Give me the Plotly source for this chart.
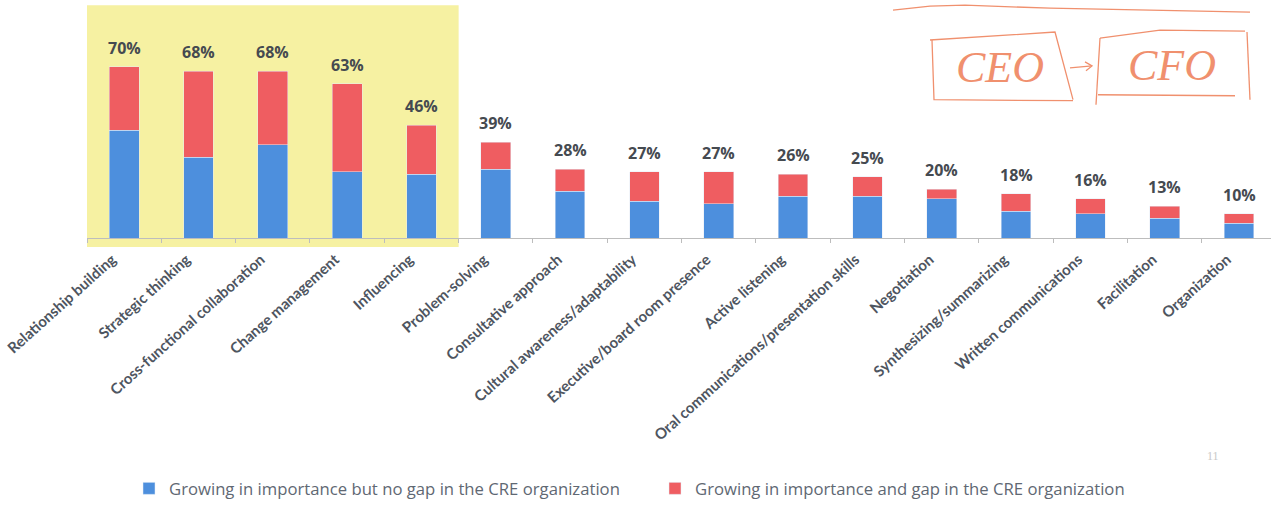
import plotly.graph_objects as go

categories = [
    "Relationship building", "Strategic thinking", "Cross-functional collaboration",
    "Change management", "Influencing", "Problem-solving", "Consultative approach",
    "Cultural awareness/adaptability", "Executive/board room presence", "Active listening",
    "Oral communications/presentation skills", "Negotiation", "Synthesizing/summarizing",
    "Written communications", "Facilitation", "Organization",
]
no_gap = [44, 33, 38, 27, 26, 28, 19, 15, 14, 17, 17, 16, 11, 10, 8, 6]
gap = [26, 35, 30, 36, 20, 11, 9, 12, 13, 9, 8, 4, 7, 6, 5, 4]
totals = [70, 68, 68, 63, 46, 39, 28, 27, 27, 26, 25, 20, 18, 16, 13, 10]
series_names = [
    "Growing in importance but no gap in the CRE organization",
    "Growing in importance and gap in the CRE organization",
]

BLUE = "#4d8fdd"
RED = "#ef5d61"

# plot area in pixels
X0, X1, YT, YB = 87, 1271, 42, 239


def px(p):
    return (p - X0) / (X1 - X0)


def py(p):
    return (YB - p) / (YB - YT)


fig = go.Figure()
fig.add_trace(go.Bar(x=categories, y=no_gap, name=series_names[0], marker_color=BLUE))
fig.add_trace(go.Bar(x=categories, y=gap, name=series_names[1], marker_color=RED))

for c, t in zip(categories, totals):
    fig.add_annotation(x=c, y=t, text=f"<b>{t}%</b>", showarrow=False, yanchor="bottom",
                       yshift=6, font=dict(family="Open Sans", size=16, color="#454a50"))

# yellow highlight behind first five categories
fig.add_shape(type="rect", xref="x", yref="paper", x0=-0.52, x1=4.5, y0=py(248), y1=py(5),
              fillcolor="#f6f1a2", line=dict(width=0), layer="below")

# hand-drawn "CEO -> CFO" note
HC = "#f0906e"


def path(points):
    return "M" + " L".join(f"{px(a):.5f},{py(b):.5f}" for a, b in points)


strokes = [
    [(893, 10), (930, 6), (965, 5), (1050, 8), (1150, 10), (1250, 12)],
    [(930, 40), (1055, 32), (1073, 100)],
    [(932, 40), (934, 100), (1073, 101)],
    [(1100, 38), (1160, 30), (1245, 31)],
    [(1100, 38), (1096, 105)],
    [(1247, 32), (1250, 100)],
    [(1098, 95), (1235, 96)],
    [(1070, 68), (1092, 66)],
    [(1085, 62), (1092, 66), (1086, 71)],
]
for s in strokes:
    fig.add_shape(type="path", xref="paper", yref="paper", path=path(s),
                  line=dict(color=HC, width=1.3))

for label, cx, cy in [("CEO", 1000, 68), ("CFO", 1172, 66)]:
    fig.add_annotation(xref="paper", yref="paper", x=px(cx), y=py(cy), text=f"<i>{label}</i>",
                       xanchor="center", yanchor="middle", showarrow=False,
                       font=dict(family="Liberation Serif", size=44, color=HC))

# page number
fig.add_annotation(xref="paper", yref="paper", x=px(1213), y=py(458), text="11",
                   xanchor="center", yanchor="middle", showarrow=False,
                   font=dict(family="Liberation Serif", size=12, color="#c8c8c8"))

fig.update_layout(
    width=1271, height=506,
    margin=dict(l=X0, r=1271 - X1, t=YT, b=506 - YB),
    barmode="stack", bargap=0.6,
    plot_bgcolor="white", paper_bgcolor="white",
    showlegend=True,
    legend=dict(orientation="h", x=px(129), xanchor="left", y=py(491), yanchor="middle",
                font=dict(family="Open Sans", size=16.7, color="#5f6873"),
                entrywidth=481, entrywidthmode="pixels", traceorder="normal"),
    xaxis=dict(range=[-0.5, 15.43], tickangle=-42, showline=True, linecolor="#bdbdbd",
               ticks="outside", tickson="boundaries", ticklen=4, tickcolor="#bdbdbd",
               ticklabelshift=-12, ticklabelstandoff=6,
               tickfont=dict(family="Lato", size=15, color="#4e5560", weight=700),
               showgrid=False),
    yaxis=dict(range=[0, 80], visible=False, showgrid=False),
)

fig.write_html("out.html")
